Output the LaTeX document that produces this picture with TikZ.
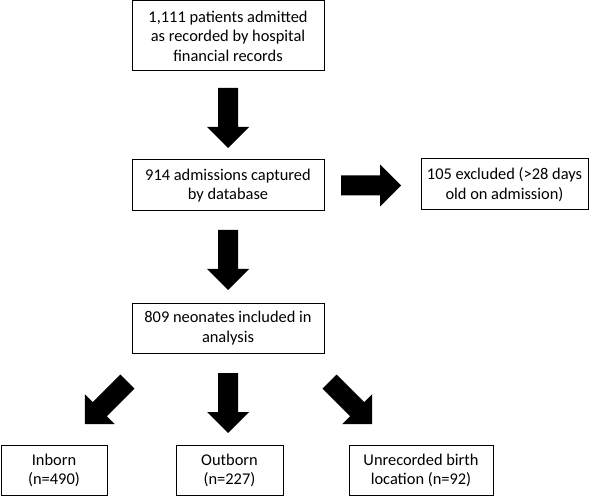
\documentclass[tikz,border=0pt]{standalone}
\usepackage{fontspec}
\setmainfont{Carlito}
\begin{document}
\begin{tikzpicture}[x=1pt,y=1pt,
  box/.style={draw=black, line width=1pt, align=center, inner sep=0pt,
    font=\fontsize{16.4}{19.5}\selectfont},
  blk/.style={fill=black}]
\useasboundingbox (0,0) rectangle (600,-497);
\newcommand\blockarrow[2]{%
  \begin{scope}[shift={(#1)}, rotate=#2]
    \fill (0,-10) -- (39,-10) -- (39,-21) -- (60,0) -- (39,21) -- (39,10) -- (0,10) -- cycle;
  \end{scope}}
\node[box, minimum width=192, minimum height=70] (b1) at (228,-36)
  {1,111 patients admitted\\as recorded by hospital\\financial records};
\node[box, minimum width=192, minimum height=51] (b2) at (228,-185.5)
  {914 admissions captured\\by database};
\node[box, minimum width=167, minimum height=51] (b3) at (504.5,-184.5)
  {105 excluded (>28 days\\old on admission)};
\node[box, minimum width=192, minimum height=50] (b4) at (228,-328)
  {809 neonates included in\\analysis};
\node[box, minimum width=106, minimum height=50] (b5) at (54,-470.5)
  {Inborn\\(n=490)};
\node[box, minimum width=107, minimum height=50] (b6) at (229.5,-470.5)
  {Outborn\\(n=227)};
\node[box, minimum width=144, minimum height=50] (b7) at (421,-470.5)
  {Unrecorded birth\\location (n=92)};
\coordinate (a1) at (228,-88);
\coordinate (a2) at (341,-185.5);
\coordinate (a3) at (228,-230);
\coordinate (a4) at (127.4,-381.6);
\coordinate (a5) at (228,-373);
\coordinate (a6) at (329.6,-381.6);
\blockarrow{a1}{-90}
\blockarrow{a2}{0}
\blockarrow{a3}{-90}
\blockarrow{a4}{-135}
\blockarrow{a5}{-90}
\blockarrow{a6}{-45}
\end{tikzpicture}
\end{document}
